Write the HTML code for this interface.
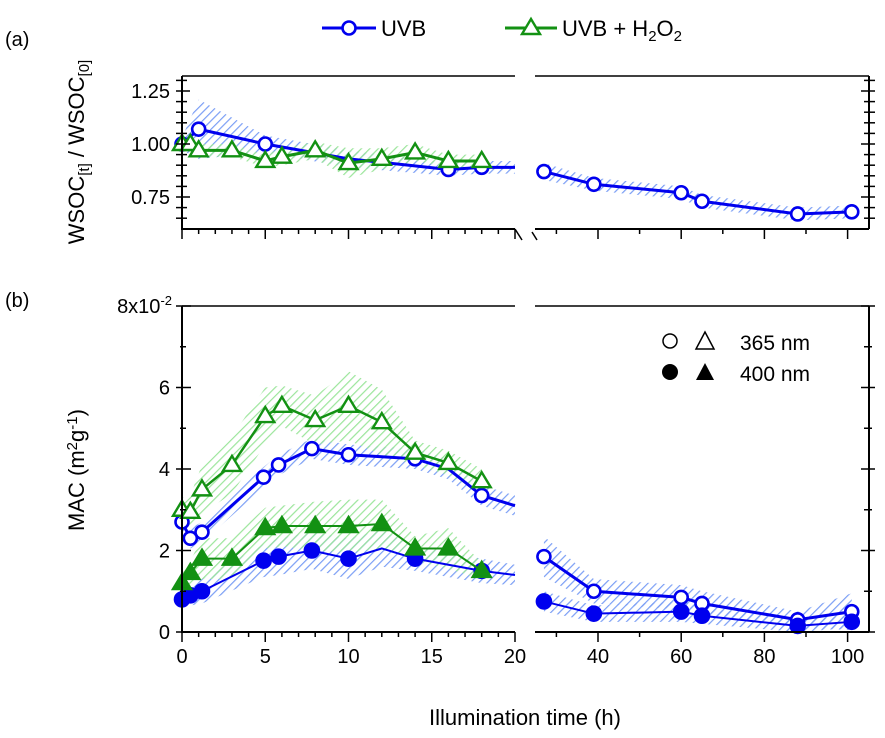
<!DOCTYPE html>
<html><head><meta charset="utf-8"><style>
body{margin:0;background:#fff}
svg{display:block;font-family:"Liberation Sans",Arial,sans-serif}
</style></head><body>
<svg id="chart" width="885" height="738" viewBox="0 0 885 738">
<defs>
<pattern id="hb" patternUnits="userSpaceOnUse" width="6" height="6" patternTransform="rotate(45)"><line x1="0" y1="0" x2="0" y2="6" stroke="#7a9ef5" stroke-width="2.4"/></pattern>
<pattern id="hg" patternUnits="userSpaceOnUse" width="6" height="6" patternTransform="rotate(45)"><line x1="0" y1="0" x2="0" y2="6" stroke="#9be59b" stroke-width="2.4"/></pattern>
</defs>
<g id="bands"></g><g id="lines"></g><g id="axes"></g>
<text x="5" y="46" font-size="20">(a)</text>
<text x="5" y="307" font-size="20">(b)</text>
<g>
<line x1="322" y1="28" x2="376" y2="28" stroke="#0000ee" stroke-width="3"/>
<circle cx="349" cy="28" r="6.5" fill="#fff" stroke="#0000ee" stroke-width="2.6"/>
<text x="381" y="36" font-size="22">UVB</text></g>
<g>
<line x1="505" y1="28" x2="557" y2="28" stroke="#139113" stroke-width="3"/>
<polygon points="531,19 540,34 522,34" fill="#fff" stroke="#139113" stroke-width="2.4"/>
<text x="562" y="36" font-size="22">UVB + H<tspan font-size="15" dy="5">2</tspan><tspan dy="-5">O</tspan><tspan font-size="15" dy="5">2</tspan></text></g>
<g>
<circle cx="670" cy="341" r="7" fill="#fff" stroke="#000" stroke-width="1.5"/>
<polygon points="705,332 714,349 696,349" fill="#fff" stroke="#000" stroke-width="1.5"/>
<text x="740" y="350" font-size="21">365 nm</text>
<circle cx="670" cy="372" r="8" fill="#000"/>
<polygon points="705,363 714,380 696,380" fill="#000"/>
<text x="740" y="381" font-size="21">400 nm</text></g>
<text transform="translate(84,152) rotate(-90)" text-anchor="middle" font-size="22">WSOC<tspan font-size="15" dy="5">[t]</tspan><tspan dy="-5"> / WSOC</tspan><tspan font-size="15" dy="5">[0]</tspan></text>
<text transform="translate(84,470) rotate(-90)" text-anchor="middle" font-size="22">MAC (m<tspan font-size="15" dy="-7">2</tspan><tspan dy="7">g</tspan><tspan font-size="15" dy="-7">-1</tspan><tspan dy="7">)</tspan></text>
<text x="525" y="725" text-anchor="middle" font-size="22">Illumination  time (h)</text>
</svg>
<script>
const timeUVB_A=[0,1,5,10,16,18,20,27,39,60,65,88,101];
const wsocUVB=[1.00,1.07,1.00,0.93,0.88,0.89,0.89,0.87,0.81,0.77,0.73,0.67,0.68];
const wsocUVBErr=[0.03,0.14,0.04,0.04,0.03,0.03,0.03,0.04,0.03,0.03,0.03,0.03,0.03];
const markUVB_A=[1,1,1,0,1,1,0,1,1,1,1,1,1];
const timeH2O2_A=[0,0.5,1,3,5,6,8,10,12,14,16,18];
const wsocH2O2=[1.00,1.00,0.97,0.97,0.92,0.94,0.97,0.91,0.93,0.96,0.92,0.92];
const wsocH2O2Err=[0.03,0.03,0.03,0.03,0.03,0.04,0.04,0.07,0.05,0.04,0.03,0.03];
const timeUVB_B=[0,0.5,1.2,4.9,5.8,7.8,10,12,14,16,18,20,27,39,60,65,88,101];
const mac365UVB=[2.7,2.3,2.45,3.8,4.1,4.5,4.35,4.3,4.25,4.0,3.35,3.1,1.85,1.0,0.85,0.7,0.3,0.5];
const mac365UVBErr=[0.25,0.25,0.25,0.25,0.25,0.25,0.25,0.25,0.25,0.25,0.25,0.25,0.5,0.3,0.3,0.3,0.2,0.45];
const mac400UVB=[0.8,0.9,1.0,1.75,1.85,2.0,1.8,2.05,1.8,1.65,1.5,1.4,0.75,0.45,0.5,0.4,0.15,0.25];
const mac400UVBErr=[0.2,0.25,0.3,0.4,0.45,0.45,0.5,0.45,0.3,0.3,0.3,0.25,0.25,0.2,0.25,0.2,0.15,0.15];
const markUVB_B=[1,1,1,1,1,1,1,0,1,0,1,0,1,1,1,1,1,1];
const timeH2O2_B=[0,0.5,1.2,3,5,6,8,10,12,14,16,18];
const mac365H2O2=[3.0,2.95,3.5,4.1,5.3,5.55,5.2,5.55,5.15,4.4,4.15,3.7];
const mac365H2O2Err=[0.3,0.4,0.6,0.7,0.7,0.5,0.6,0.85,0.8,0.3,0.3,0.3];
const mac400H2O2=[1.2,1.45,1.8,1.8,2.55,2.6,2.6,2.6,2.65,2.05,2.05,1.5];
const mac400H2O2Err=[0.3,0.3,0.5,0.5,0.5,0.5,0.6,0.65,0.6,0.3,0.5,0.2];
const xLabelsLeft=[0,5,10,15,20];
const xLabelsRight=[40,60,80,100];
const yLabelsA=["1.25","1.00","0.75"];
const yLabelsB=["2","4","6"];

const NS="http://www.w3.org/2000/svg";
function xs(t){return t<=20?182+t*16.65:598+(t-40)*4.16;}
function ya(v){return 144-(v-1)*212;}
function yb(v){return 632-v*40.75;}
function mk(tag,at,parent){const e=document.createElementNS(NS,tag);for(const k in at)e.setAttribute(k,at[k]);document.getElementById(parent).appendChild(e);return e;}
function segs(t){const L=[],R=[];t.forEach((v,i)=>(v<=20?L:R).push(i));return [L,R].filter(s=>s.length);}
function band(t,v,err,ys,fill,name){
  segs(t).forEach(s=>{
    let d=s.map((i,k)=>(k?'L':'M')+xs(t[i])+','+ys(v[i]+err[i])).join('');
    d+=s.slice().reverse().map(i=>'L'+xs(t[i])+','+ys(v[i]-err[i])).join('')+'Z';
    const p=mk('path',{d:d,fill:fill},'bands');
    
    
  });
}
function series(t,v,ys,col,w,shape,filled,marks,name){
  segs(t).forEach(s=>{
    const p=mk('polyline',{points:s.map(i=>xs(t[i])+','+ys(v[i])).join(' '),fill:'none',stroke:col,'stroke-width':w},'lines');
    
    
  });
  t.forEach((tt,i)=>{
    if(marks&&!marks[i])return;
    const x=xs(tt),y=ys(v[i]);let m;
    if(shape==='c')m=mk('circle',{cx:x,cy:y,r:filled?7:6.5,fill:filled?col:'#fff',stroke:col,'stroke-width':2.6},'lines');
    else m=mk('polygon',{points:`${x},${y-9} ${x+9},${y+6} ${x-9},${y+6}`,fill:filled?col:'#fff',stroke:col,'stroke-width':2.4},'lines');
    
    
  });
}
const B='#0000ee',G='#139113';
band(timeUVB_A,wsocUVB,wsocUVBErr,ya,'url(#hb)','band-uvb-a');
band(timeH2O2_A,wsocH2O2,wsocH2O2Err,ya,'url(#hg)','band-h2o2-a');
band(timeUVB_B,mac365UVB,mac365UVBErr,yb,'url(#hb)','band-uvb-365');
band(timeUVB_B,mac400UVB,mac400UVBErr,yb,'url(#hb)','band-uvb-400');
band(timeH2O2_B,mac365H2O2,mac365H2O2Err,yb,'url(#hg)','band-h2o2-365');
band(timeH2O2_B,mac400H2O2,mac400H2O2Err,yb,'url(#hg)','band-h2o2-400');
series(timeUVB_A,wsocUVB,ya,B,3,'c',false,markUVB_A,'uvb-wsoc');
series(timeH2O2_A,wsocH2O2,ya,G,3,'t',false,null,'h2o2-wsoc');
series(timeUVB_B,mac365UVB,yb,B,3,'c',false,markUVB_B,'uvb-365');
series(timeUVB_B,mac400UVB,yb,B,2,'c',true,markUVB_B,'uvb-400');
series(timeH2O2_B,mac365H2O2,yb,G,2.5,'t',false,null,'h2o2-365');
series(timeH2O2_B,mac400H2O2,yb,G,2,'t',true,null,'h2o2-400');

function ln(x1,y1,x2,y2,w,name){const l=mk('line',{x1,y1,x2,y2,stroke:'#000','stroke-width':w||1.5},'axes');}
function tx(x,y,s,anchor,name){const e=mk('text',{x,y,'font-size':20,'text-anchor':anchor},'axes');e.textContent=s;}
[[76,229],[306,632]].forEach(([top,bot],pi)=>{
  ln(182,top,182,bot+1,2,'y-axis-left');
  ln(182,top,515,top,1.5,'frame-top');ln(535,top,869,top,1.5,'frame-top-right');
  ln(869,top,869,bot,2,'y-axis-right');
  ln(182,bot,515,bot,2,'x-axis-left');ln(535,bot,869,bot,2,'x-axis-right');
  for(let t=0;t<=20;t++){ln(xs(t),bot,xs(t),bot+(t%5?5:10),1.5,'x-tick');}
  for(let t=30;t<=100;t+=10){ln(xs(t),bot,xs(t),bot+(t%20?5:10),1.5,'x-tick');}
});
ln(515,229,522,240,1.5,'axis-break');ln(532,232,537,240,1.5,'axis-break');
for(let v=0.65;v<=1.31;v+=0.05){const big=Math.abs((v*4)-Math.round(v*4))<0.01;const y=ya(v);ln(176,y,big?190:187,y,1.5,'y-tick-a');ln(big?861:864,y,875,y,1.5,'y-tick-a-right');}
yLabelsA.forEach(s=>tx(170,ya(+s)+7,s,'end','y-tick-label-a'));
for(let v=0;v<=8;v++){const y=yb(v);const big=v%2===0;ln(big?176:180,y,big?191:186,y,1.5,'y-tick-b');ln(big?861:864,y,big?875:872,y,1.5,'y-tick-b-right');}
tx(170,yb(0)+7,'0','end','y-tick-label-b');
yLabelsB.forEach(s=>tx(170,yb(+s)+7,s,'end','y-tick-label-b'));
const e8=mk('text',{x:172,y:yb(8)+7,'font-size':20,'text-anchor':'end'},'axes');
e8.innerHTML='8x10<tspan font-size="13" dy="-8">-2</tspan>';


xLabelsLeft.forEach(t=>tx(xs(t),663,String(t),'middle','x-tick-label'));
xLabelsRight.forEach(t=>tx(xs(t),663,String(t),'middle','x-tick-label'));
</script>
</body></html>
